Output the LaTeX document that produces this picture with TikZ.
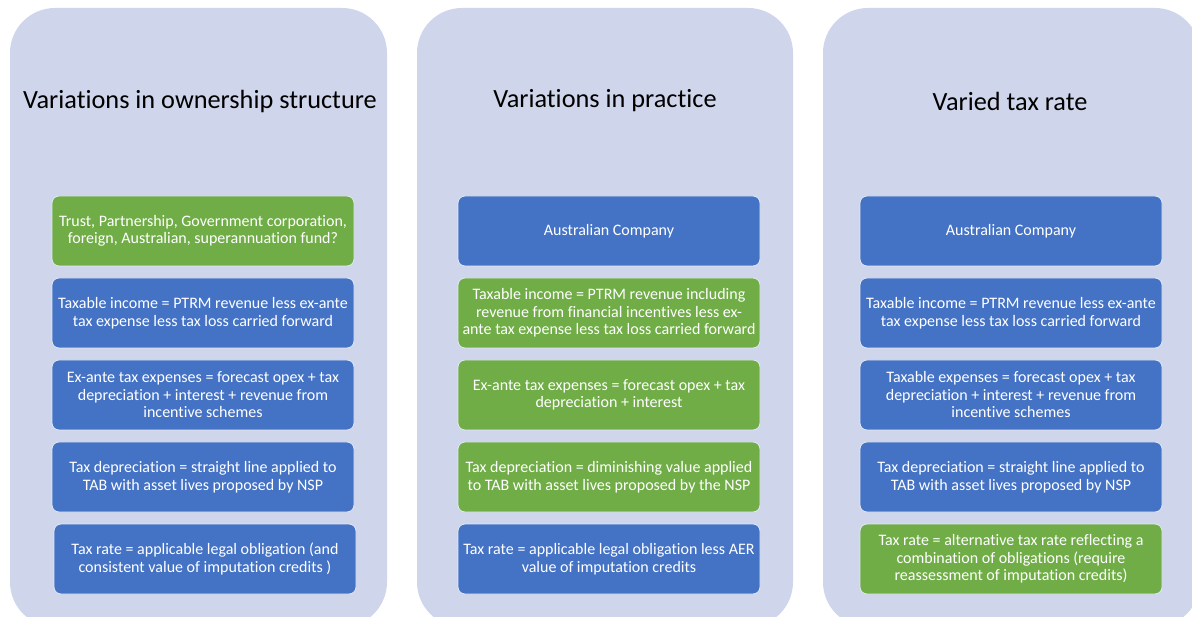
\documentclass[tikz,border=0pt]{standalone}
\usepackage{fontspec}
\setmainfont[Ligatures=NoCommon]{Carlito}
\definecolor{panelbg}{HTML}{CFD5EA}
\definecolor{boxblue}{HTML}{4472C4}
\definecolor{boxgreen}{HTML}{70AD47}
\tikzset{
  panel/.style={fill=panelbg, rounded corners=45pt},
  heading/.style={font=\fontsize{26.3}{30}\selectfont, text=black},
  item/.style={draw=white!85!boxblue, line width=0.8pt, rounded corners=7pt,
    minimum width=302pt, minimum height=70pt, text=white, align=center,
    font=\fontsize{16}{17.5}\selectfont, inner sep=2pt},
  blue item/.style={item, fill=boxblue},
  green item/.style={item, fill=boxgreen}
}
\begin{document}
\begin{tikzpicture}[x=1pt, y=-1pt]

      \useasboundingbox (0, 0) rectangle (1192, 617);
      \clip (0, 0) rectangle (1192, 617);
      \fill [white] (0, 0) rectangle (1192, 617);

      \fill [panel] (10, 8) rectangle (387, 627);
      \fill [panel] (417, 8) rectangle (793, 627);
      \fill [panel] (823, 8) rectangle (1200, 627);

      \node[heading] (ownership) at (200, 101) {Variations in ownership structure};
      \node[heading] (practice) at (605, 101) {Variations in practice};
      \node[heading] (rate) at (1010, 101) {Varied tax rate};

      \node[green item] (own1) at (203, 231) {Trust, Partnership, Government corporation,\\ foreign, Australian, superannuation fund?};
      \node[blue item] (own2) at (203, 313) {Taxable income = PTRM revenue less ex-ante\\ tax expense less tax loss carried forward};
      \node[blue item] (own3) at (203, 395) {Ex-ante tax expenses = forecast opex + tax\\ depreciation + interest + revenue from\\ incentive schemes};
      \node[blue item] (own4) at (203, 477) {Tax depreciation = straight line applied to\\ TAB with asset lives proposed by NSP};
      \node[blue item] (own5) at (205, 559) {Tax rate = applicable legal obligation (and\\ consistent value of imputation credits )};

      \node[blue item] (prac1) at (609, 231) {Australian Company};
      \node[green item] (prac2) at (609, 313) {Taxable income = PTRM revenue including\\ revenue from financial incentives less ex-\\ ante tax expense less tax loss carried forward};
      \node[green item] (prac3) at (609, 395) {Ex-ante tax expenses = forecast opex + tax\\ depreciation + interest};
      \node[green item] (prac4) at (609, 477) {Tax depreciation = diminishing value applied\\ to TAB with asset lives proposed by the NSP};
      \node[blue item] (prac5) at (609, 559) {Tax rate = applicable legal obligation less AER\\ value of imputation credits};

      \node[blue item] (rate1) at (1011, 231) {Australian Company};
      \node[blue item] (rate2) at (1011, 313) {Taxable income = PTRM revenue less ex-ante\\ tax expense less tax loss carried forward};
      \node[blue item] (rate3) at (1011, 395) {Taxable expenses = forecast opex + tax\\ depreciation + interest + revenue from\\ incentive schemes};
      \node[blue item] (rate4) at (1011, 477) {Tax depreciation = straight line applied to\\ TAB with asset lives proposed by NSP};
      \node[green item] (rate5) at (1011, 559) {Tax rate = alternative tax rate reflecting a\\ combination of obligations (require\\ reassessment of imputation credits)};

    \end{tikzpicture}
\end{document}
